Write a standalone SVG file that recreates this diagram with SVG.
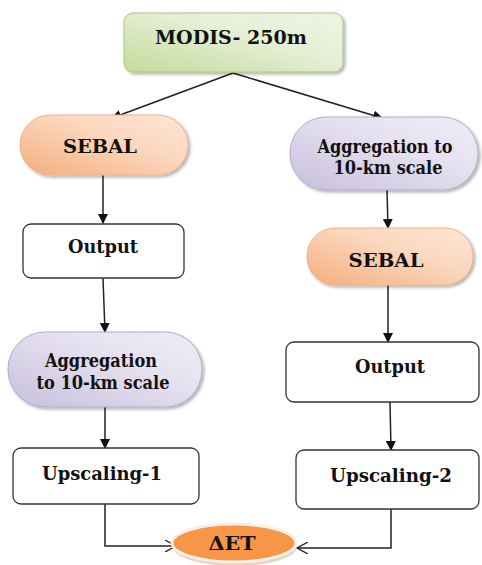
<svg xmlns="http://www.w3.org/2000/svg" width="482" height="565" viewBox="0 0 482 565">
<style>
.box{fill:#fff;stroke:#333;stroke-width:1.3}
.c{fill:none;stroke:#222;stroke-width:1.5}
</style>
<defs>
<linearGradient id="gG" x1="0" y1="1" x2="1" y2="0"><stop offset="0" stop-color="#c4db9c"/><stop offset="0.6" stop-color="#e6efd6"/><stop offset="1" stop-color="#eef4e4"/></linearGradient>
<linearGradient id="gO" x1="0" y1="1" x2="1" y2="0"><stop offset="0" stop-color="#f5ad7c"/><stop offset="0.6" stop-color="#fbd8bf"/><stop offset="1" stop-color="#fde6d6"/></linearGradient>
<linearGradient id="gP" x1="0" y1="1" x2="1" y2="0"><stop offset="0" stop-color="#c7bfdc"/><stop offset="0.6" stop-color="#e6e1f0"/><stop offset="1" stop-color="#efecf6"/></linearGradient>
<filter id="sh" x="-10%" y="-10%" width="125%" height="135%"><feDropShadow dx="2" dy="2" stdDeviation="1.5" flood-color="#000" flood-opacity="0.3"/></filter>
<marker id="ah" markerWidth="10" markerHeight="10" refX="9" refY="5" orient="auto" markerUnits="userSpaceOnUse"><path d="M0,0 L10,5 L0,10 z" fill="#111"/></marker>
<marker id="oh" markerWidth="12" markerHeight="12" refX="11" refY="6" orient="auto" markerUnits="userSpaceOnUse"><path d="M0,0 L11,6 L0,12" fill="none" stroke="#222" stroke-width="1.3"/></marker>
</defs>
<g id="connectors">
<path class="c" d="M233,73 L112,118" marker-end="url(#ah)"/>
<path class="c" d="M233,73 L382,118" marker-end="url(#ah)"/>
<path class="c" d="M103,175 L103,223" marker-end="url(#ah)"/>
<path class="c" d="M103,278 L105,332" marker-end="url(#ah)"/>
<path class="c" d="M105,407 L105,448" marker-end="url(#ah)"/>
<path class="c" d="M105,504 L105,546 L176,546" marker-end="url(#oh)"/>
<path class="c" d="M387,190 L388,228" marker-end="url(#ah)"/>
<path class="c" d="M388,285 L388,342" marker-end="url(#ah)"/>
<path class="c" d="M390,402 L391,450" marker-end="url(#ah)"/>
<path class="c" d="M391,509 L391,548 L297,548" marker-end="url(#oh)"/>
</g>
<g font-family="DejaVu Serif, serif" font-weight="bold" font-size="18" fill="#111" text-anchor="middle">
<g id="modis">
<rect x="124" y="13" width="219" height="59" rx="9" fill="url(#gG)" stroke="#a9c47c" stroke-width="1" filter="url(#sh)"/>
<text x="231" y="44" font-size="19" textLength="152" lengthAdjust="spacingAndGlyphs">MODIS- 250m</text>
</g>
<g id="sebal1">
<rect x="20" y="115" width="168" height="60" rx="30" fill="url(#gO)" stroke="#f0b08a" stroke-width="1" filter="url(#sh)"/>
<text x="100" y="153" textLength="74" lengthAdjust="spacingAndGlyphs">SEBAL</text>
</g>
<g id="output1">
<rect class="box" x="23" y="224" width="161" height="54" rx="8"/>
<text x="103" y="253" textLength="70" lengthAdjust="spacingAndGlyphs">Output</text>
</g>
<g id="agg1">
<rect x="8" y="332" width="194" height="75" rx="37" fill="url(#gP)" stroke="#b3a9d0" stroke-width="1" filter="url(#sh)"/>
<text x="101" y="367" textLength="112" lengthAdjust="spacingAndGlyphs">Aggregation</text>
<text x="103" y="389" textLength="133" lengthAdjust="spacingAndGlyphs">to 10-km scale</text>
</g>
<g id="up1">
<rect class="box" x="13" y="448" width="186" height="56" rx="8"/>
<text x="102" y="480" textLength="120" lengthAdjust="spacingAndGlyphs">Upscaling-1</text>
</g>
<g id="agg2">
<rect x="290" y="117" width="188" height="73" rx="36" fill="url(#gP)" stroke="#b3a9d0" stroke-width="1" filter="url(#sh)"/>
<text x="385" y="153" textLength="135" lengthAdjust="spacingAndGlyphs">Aggregation to</text>
<text x="388" y="174" textLength="109" lengthAdjust="spacingAndGlyphs">10-km scale</text>
</g>
<g id="sebal2">
<rect x="307" y="228" width="166" height="57" rx="28" fill="url(#gO)" stroke="#f0b08a" stroke-width="1" filter="url(#sh)"/>
<text x="386" y="267" textLength="75" lengthAdjust="spacingAndGlyphs">SEBAL</text>
</g>
<g id="output2">
<rect class="box" x="286" y="342" width="193" height="60" rx="8"/>
<text x="390" y="373" textLength="70" lengthAdjust="spacingAndGlyphs">Output</text>
</g>
<g id="up2">
<rect class="box" x="296" y="450" width="183" height="59" rx="8"/>
<text x="391" y="482" textLength="122" lengthAdjust="spacingAndGlyphs">Upscaling-2</text>
</g>
<g id="det">
<ellipse cx="234" cy="544" rx="62" ry="19" fill="#e8c8b0" opacity="0.8" transform="translate(1,3)"/>
<ellipse cx="234" cy="543" rx="62" ry="19" fill="#f79646" stroke="#f4f0ec" stroke-width="3"/>
<text x="232" y="550" font-size="19" textLength="47" lengthAdjust="spacingAndGlyphs">ΔET</text>
</g>
</g>
</svg>
